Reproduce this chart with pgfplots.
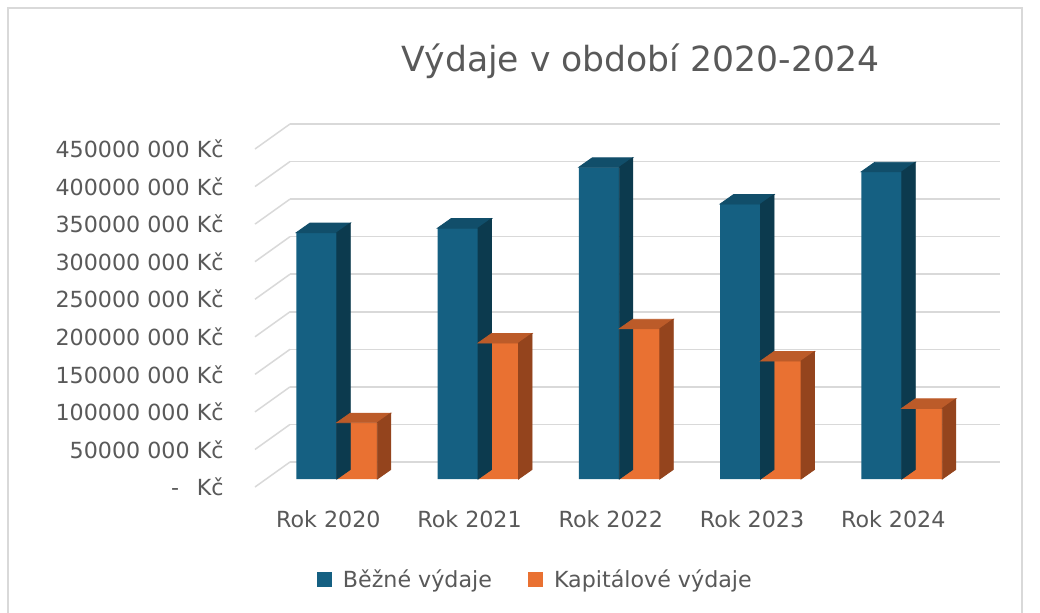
\documentclass[border=0pt]{standalone}
\usepackage{fontspec}
\setmainfont{DejaVu Sans}
\usepackage{pgfplots}
\usepackage{pgfplotstable}
\pgfplotsset{compat=1.18}
\definecolor{txt}{HTML}{595959}
\definecolor{gridc}{HTML}{D9D9D9}
\definecolor{bfront}{HTML}{156082}
\definecolor{btop}{HTML}{114E6A}
\definecolor{bside}{HTML}{0C3A4E}
\definecolor{ofront}{HTML}{E97132}
\definecolor{otop}{HTML}{BC5B29}
\definecolor{oside}{HTML}{94441D}
\pgfdeclareplotmark{blank}{}
\pgfplotstableread{
x b k
0 328 75
1 334 181
2 415 200
3 366 157
4 409 94
}\data
\pgfplotsset{
  mybar/.style={ybar, bar width=0.2867, bar shift=0pt, draw=none,
    legend image code/.code={\fill[##1] (0pt,-3.75pt) rectangle (7.5pt,3.75pt); \path (11pt,0pt);}},
  deco/.style n args={2}{%
    scatter, only marks, mark=blank, forget plot,
    point meta=explicit,
    scatter/@pre marker code/.code={%
      \pgfmathsetmacro\hh{\pgfplotspointmetatransformed*0.169}%
      \fill[#1] (-10.125pt,0pt) -- (10.125pt,0pt) -- (16.875pt,4.75pt) -- (-3.375pt,4.75pt) -- cycle;
      \fill[#2] (10.125pt,0pt) -- (16.875pt,4.75pt) -- (16.875pt,{4.75pt-\hh pt}) -- (10.125pt,{-\hh pt}) -- cycle;
    },
    scatter/@post marker code/.code={},
  },
}
\newcommand\lf{\fontsize{11.1}{13}\selectfont}
\begin{document}
\begin{tikzpicture}
\useasboundingbox (0,0) rectangle (520pt,306pt);
\fill[white] (0,0) rectangle (520pt,306pt);
\draw[gridc, line width=0.6pt] (4pt,-5pt) rectangle (511pt,302pt);
% back wall with gridlines
\begin{axis}[
  at={(145pt,75pt)}, anchor=south west,
  scale only axis, width=355pt, height=169pt,
  xmin=0, xmax=1, ymin=0, ymax=450,
  axis line style={draw=none}, tick style={draw=none},
  xtick=\empty,
  ytick={0,50,...,450},
  yticklabels={-\hspace{0.8em}Kč, 50000 000 Kč, 100000 000 Kč, 150000 000 Kč, 200000 000 Kč, 250000 000 Kč, 300000 000 Kč, 350000 000 Kč, 400000 000 Kč, 450000 000 Kč},
  yticklabel style={anchor=east, inner sep=0pt, xshift=-33pt, yshift=-12.5pt, font=\lf, text=txt},
  ymajorgrids, grid style={gridc, line width=0.75pt},
  clip=false,
]
\pgfplotsinvokeforeach{0,50,...,450}{\draw[gridc, line width=0.75pt] (axis cs:0,#1) -- ++(-17.5pt,-12.5pt);}
\end{axis}
% bars
\begin{axis}[
  at={(133.1pt,66.5pt)}, anchor=south west,
  scale only axis, width=354.5pt, height=169pt,
  xmin=-0.5, xmax=4.52, ymin=0, ymax=450,
  point meta min=0, point meta max=450,
  axis line style={draw=none}, tick style={draw=none},
  ytick=\empty,
  xtick={0,1,2,3,4},
  xticklabels={Rok 2020, Rok 2021, Rok 2022, Rok 2023, Rok 2024},
  xticklabel style={anchor=center, yshift=-20pt, xshift=-4.25pt, font=\lf, text=txt},
  clip=false,
  legend style={at={(0.381,-0.2988)}, anchor=center, draw=none, fill=none, font=\lf, text=txt, legend columns=2,
    /tikz/every even column/.append style={column sep=16pt}},
]
\addplot[mybar, fill=bfront] table[x expr=\thisrow{x}-0.1434, y=b]{\data};
\addplot[deco={btop}{bside}] table[x expr=\thisrow{x}-0.1434, y=b, meta=b]{\data};
\addplot[mybar, fill=ofront] table[x expr=\thisrow{x}+0.1434, y=k]{\data};
\addplot[deco={otop}{oside}] table[x expr=\thisrow{x}+0.1434, y=k, meta=k]{\data};
\legend{Běžné výdaje, Kapitálové výdaje}
\end{axis}
\node[anchor=base, font=\fontsize{17.3}{20}\selectfont, text=txt] at (320.25pt,270pt) {Výdaje v období 2020-2024};
\end{tikzpicture}
\end{document}
